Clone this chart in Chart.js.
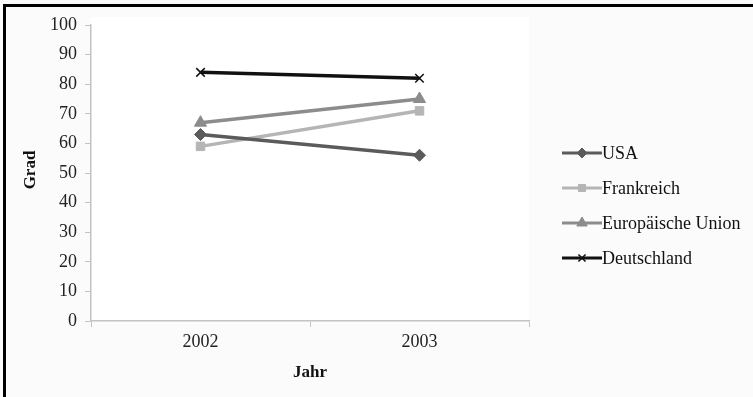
<!DOCTYPE html>
<html>
<head>
<meta charset="utf-8">
<script src="https://cdn.jsdelivr.net/npm/chart.js@4/dist/chart.umd.min.js"></script>
<style>
  html, body { margin: 0; padding: 0; background: #fbfbfb; }
  #wrap { width: 753px; height: 397px; position: relative; }
</style>
</head>
<body>
<div id="wrap"><canvas id="c" width="753" height="397"></canvas></div>
<script>
// Jahre (Kategorien) und Werte je Reihe
const years = ['2002', '2003'];
const usa = [63, 56];
const frankreich = [59, 71];
const eu = [67, 75];
const deutschland = [84, 82];
const yTicks = [0, 10, 20, 30, 40, 50, 60, 70, 80, 90, 100];

const serif = '"Liberation Serif", "DejaVu Serif", serif';

const series = [
  { label: 'USA', data: usa, color: '#5b5b5b', style: 'rectRot', radius: 6 },
  { label: 'Frankreich', data: frankreich, color: '#b5b5b5', style: 'rect', radius: 6 },
  { label: 'Europäische Union', data: eu, color: '#8c8c8c', style: 'triangle', radius: 7 },
  { label: 'Deutschland', data: deutschland, color: '#111111', style: 'crossRot', radius: 6 }
];

// Rahmen, Achsentitel und Legende
const decor = {
  id: 'decor',
  beforeDraw(chart) {
    const { ctx, chartArea: a } = chart;
    ctx.save();
    ctx.fillStyle = '#ffffff';
    ctx.fillRect(a.left, a.top - 8, a.right - a.left, a.bottom - a.top + 8);
    ctx.restore();
  },
  afterDraw(chart) {
    const { ctx, chartArea: a } = chart;
    ctx.save();
    // Rahmen oben und links
    ctx.fillStyle = '#000';
    ctx.fillRect(3, 4, 750, 3);
    ctx.fillRect(3, 4, 3, 393);

    // Achsentitel
    ctx.fillStyle = '#111';
    ctx.font = 'bold 17px ' + serif;
    ctx.textAlign = 'center';
    ctx.textBaseline = 'middle';
    ctx.fillText('Jahr', (a.left + a.right) / 2, 373);
    ctx.save();
    ctx.translate(31, 170);
    ctx.rotate(-Math.PI / 2);
    ctx.fillText('Grad', 0, 0);
    ctx.restore();

    // Legende mit Linie und Marker
    const x0 = 562, x1 = 602;
    let y = 153;
    ctx.font = '18px ' + serif;
    ctx.textAlign = 'left';
    chart.data.datasets.forEach((ds) => {
      ctx.strokeStyle = ds.borderColor;
      ctx.fillStyle = ds.borderColor;
      ctx.lineWidth = 3;
      ctx.beginPath();
      ctx.moveTo(x0, y);
      ctx.lineTo(x1, y);
      ctx.stroke();
      ctx.lineWidth = ds.pointBorderWidth;
      Chart.helpers.drawPoint(ctx, {
        pointStyle: ds.pointStyle,
        radius: ds.pointRadius - 1,
        borderWidth: ds.pointBorderWidth,
        rotation: 0
      }, (x0 + x1) / 2, y);
      ctx.fillStyle = '#111';
      ctx.fillText(ds.label, x1, y + 1);
      y += 35;
    });
    ctx.restore();
  }
};

new Chart(document.getElementById('c'), {
  type: 'line',
  data: {
    labels: years,
    datasets: series.map((s) => ({
      label: s.label,
      data: s.data,
      borderColor: s.color,
      backgroundColor: s.color,
      pointBackgroundColor: s.color,
      pointBorderColor: s.color,
      pointStyle: s.style,
      pointRadius: s.radius,
      pointBorderWidth: s.style === 'crossRot' ? 1.5 : 1,
      borderWidth: 3.5,
      tension: 0
    }))
  },
  options: {
    responsive: false,
    animation: false,
    layout: { padding: { top: 25, right: 224, bottom: 0, left: 0 } },
    plugins: {
      legend: { display: false },
      tooltip: { enabled: false }
    },
    scales: {
      x: {
        offset: true,
        grid: { offset: true, drawOnChartArea: false, color: '#c4c4c4', tickLength: 6 },
        border: { color: '#c4c4c4', width: 1.5 },
        ticks: { color: '#222', font: { family: serif, size: 18 }, padding: 4 },
        afterFit(scale) { scale.height = 76; }
      },
      y: {
        min: 0,
        max: 100,
        afterBuildTicks(scale) { scale.ticks = yTicks.map((v) => ({ value: v })); },
        grid: { drawOnChartArea: false, color: '#c4c4c4', tickLength: 6 },
        border: { color: '#c4c4c4', width: 1.5 },
        ticks: { color: '#222', font: { family: serif, size: 18 }, padding: 8 },
        afterFit(scale) { scale.width = 91; }
      }
    }
  },
  plugins: [decor]
});
</script>
</body>
</html>
